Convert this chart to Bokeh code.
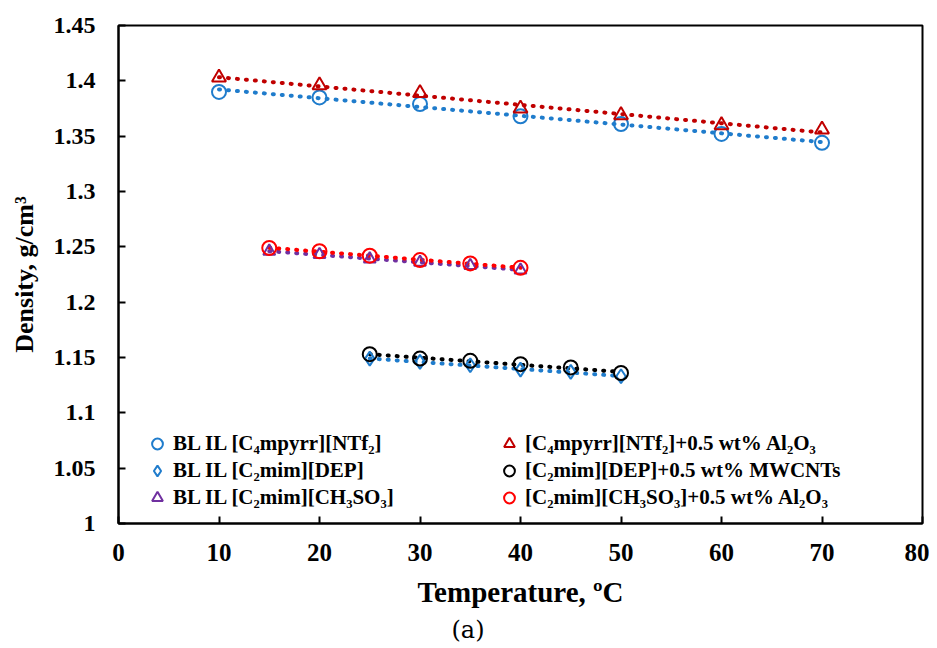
import numpy as np
from bokeh.plotting import figure
from bokeh.models import (Legend, LegendItem, FixedTicker, CustomJSTickFormatter,
                          Range1d, Title)
from bokeh.embed import file_html
from bokeh.resources import INLINE

# ---- data ----
x_a = [10, 20, 30, 40, 50, 60, 70]
bl_c4mpyrr = [1.390, 1.385, 1.379, 1.368, 1.361, 1.352, 1.344]
nf_c4mpyrr = [1.403, 1.396, 1.389, 1.375, 1.369, 1.360, 1.356]

x_b = [25, 30, 35, 40, 45, 50]
bl_dep = [1.149, 1.146, 1.143, 1.139, 1.137, 1.133]
nf_dep = [1.153, 1.149, 1.147, 1.144, 1.141, 1.136]

x_c = [15, 20, 25, 30, 35, 40]
bl_ch3so3 = [1.246, 1.243, 1.239, 1.236, 1.233, 1.229]
nf_ch3so3 = [1.249, 1.246, 1.242, 1.238, 1.235, 1.231]

labels = ["BL IL [C\u2084mpyrr][NTf\u2082]",
          "BL IL [C\u2082mim][DEP]",
          "BL IL [C\u2082mim][CH\u2083SO\u2083]",
          "[C\u2084mpyrr][NTf\u2082]+0.5 wt% Al\u2082O\u2083",
          "[C\u2082mim][DEP]+0.5 wt% MWCNTs",
          "[C\u2082mim][CH\u2083SO\u2083]+0.5 wt% Al\u2082O\u2083"]

x_ticks = [0, 10, 20, 30, 40, 50, 60, 70, 80]
y_ticks = [1.0, 1.05, 1.1, 1.15, 1.2, 1.25, 1.3, 1.35, 1.4, 1.45]

FONT = "Liberation Serif"
BLUE = "#1f7ccc"
DRED = "#c00000"
RED = "#ff0000"
PURPLE = "#7030a0"
BLACK = "#000000"

p = figure(width=929, height=648, output_backend="svg", toolbar_location=None,
           x_range=Range1d(0, 80), y_range=Range1d(1.0, 1.45),
           min_border_left=118, min_border_right=7, min_border_top=25,
           min_border_bottom=125)
p.grid.visible = False
p.outline_line_color = "black"
p.outline_line_width = 2
p.background_fill_color = "white"

for ax in (p.xaxis[0], p.yaxis[0]):
    ax.axis_line_width = 2
    ax.axis_line_color = "black"
    ax.major_tick_in = 7
    ax.major_tick_out = 0
    ax.major_tick_line_width = 2
    ax.minor_tick_in = 0
    ax.minor_tick_out = 0
    ax.major_label_text_font = FONT
    ax.major_label_text_font_style = "bold"
    ax.axis_label_text_font = FONT
    ax.axis_label_text_font_style = "bold"
    ax.axis_label_text_color = "black"
    ax.major_label_text_color = "black"

p.xaxis.ticker = FixedTicker(ticks=x_ticks)
p.yaxis.ticker = FixedTicker(ticks=y_ticks)
p.yaxis.formatter = CustomJSTickFormatter(
    code="return tick.toFixed(2).replace(/0+$/,'').replace(/\\.$/,'');")
p.xaxis.major_label_text_font_size = "25px"
p.yaxis.major_label_text_font_size = "24px"
p.xaxis.major_label_standoff = 20
p.yaxis.major_label_standoff = 23
p.xaxis.axis_label = "Temperature, \u00baC"
p.xaxis.axis_label_text_font_size = "29px"
p.xaxis.axis_label_standoff = 12
p.yaxis.axis_label = "Density, g/cm\u00b3"
p.yaxis.axis_label_text_font_size = "26px"
p.yaxis.axis_label_standoff = 12

series = [
    (x_a, bl_c4mpyrr, BLUE, "circle", 14),
    (x_b, bl_dep, BLUE, "diamond", 14),
    (x_c, bl_ch3so3, PURPLE, "triangle", 12),
    (x_a, nf_c4mpyrr, DRED, "triangle", 14),
    (x_b, nf_dep, BLACK, "circle", 14),
    (x_c, nf_ch3so3, RED, "circle", 14),
]

# trendlines (linear fits of the data)
for xs, ys, col, _, _ in series:
    k, b = np.polyfit(xs, ys, 1)
    xx = [xs[0], xs[-1]]
    p.line(xx, [k * v + b for v in xx], line_color=col, line_width=4,
           line_dash="1 8", line_cap="round")

renderers = []
for xs, ys, col, mk, sz in series:
    r = p.scatter(xs, ys, marker=mk, size=sz, line_color=col,
                  line_width=2, fill_color=None)
    renderers.append(r)

def make_legend(idx, loc):
    lg = Legend(items=[LegendItem(label=labels[i], renderers=[renderers[i]]) for i in idx],
                location=loc, border_line_color=None, background_fill_alpha=0,
                padding=0, margin=0, spacing=0, glyph_width=32, glyph_height=27,
                label_height=20, label_standoff=0,
                label_text_font=FONT, label_text_font_style="bold",
                label_text_font_size="21px", label_text_color="black")
    p.add_layout(lg, "center")

make_legend([0, 1, 2], (23, 12))
make_legend([3, 4, 5], (375, 12))

p.add_layout(Title(text="(a)", align="left", offset=333, standoff=7,
                   text_font="DejaVu Serif",
                   text_font_size="24px", text_font_style="normal",
                   text_color="black"), "below")

open("out.html", "w").write(file_html(p, INLINE))
